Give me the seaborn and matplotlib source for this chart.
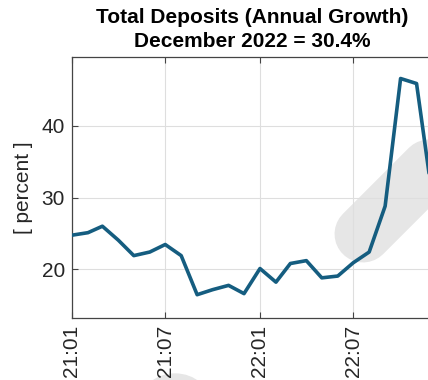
import numpy as np
import pandas as pd
import matplotlib
matplotlib.use("Agg")
import matplotlib.pyplot as plt
import matplotlib.dates as mdates
from matplotlib.lines import Line2D
from matplotlib.patches import Circle
import seaborn as sns

# Data: annual growth of total deposits, monthly 2021:01 - 2022:12
months = pd.date_range("2021-01-01", periods=24, freq="MS")
growth = [24.75, 25.1, 26.0, 24.05, 21.9, 22.4, 23.45, 21.9, 16.45, 17.15, 17.75, 16.6,
          20.1, 18.2, 20.8, 21.2, 18.8, 19.05, 20.9, 22.4, 28.8, 46.6, 45.9, 30.4]
tick_months = pd.to_datetime(["2021-01-01", "2021-07-01", "2022-01-01", "2022-07-01"])
yticks = [20, 30, 40]

df = pd.DataFrame({"month": months, "growth": growth})

sns.set_style("white")
plt.rcParams["font.family"] = ["Liberation Sans", "DejaVu Sans"]

W, H = 428, 380
fig = plt.figure(figsize=(W / 100, H / 100), dpi=100)
# axes runs slightly past the right edge of the picture, as in the reference
ax = fig.add_axes([72 / W, 1 - 318 / H, 360 / W, 261 / H])
ax.set_zorder(2)
ax.patch.set_alpha(0)

# grey watermark shapes (behind the axes content)
fig.add_artist(Line2D([363 / W, 470 / W], [1 - 234 / H, 1 - 127 / H], transform=fig.transFigure,
                      color="#e6e6e6", lw=41, solid_capstyle="round", zorder=1))
fig.add_artist(Circle((175 / W, 1 - 406 / H), 36 / W, transform=fig.transFigure,
                      color="#e6e6e6", zorder=1))

sns.lineplot(data=df, x="month", y="growth", ax=ax, color="#155d80", lw=2.6, zorder=3)

ax.set_xlim(months[0], months[-1])
ax.set_ylim(13.2, 49.6)
ax.set_xticks(tick_months)
ax.xaxis.set_major_formatter(mdates.DateFormatter("%y:%m"))
ax.set_yticks(yticks)
ax.tick_params(axis="x", rotation=90)
ax.tick_params(direction="in", length=4, width=0.8, color="#444444", labelsize=15,
               labelcolor="#262626", top=True, bottom=True, left=True, pad=5)
ax.grid(True, color="#dedede", lw=0.8)
for s in ax.spines.values():
    s.set_color("#444444")
    s.set_linewidth(0.9)
ax.spines["right"].set_visible(False)

ax.set_xlabel("")
ax.set_ylabel("[ percent ]", fontsize=15, color="#262626", labelpad=6)
ax.set_title("Total Deposits (Annual Growth)\nDecember 2022 = 30.4%",
             fontsize=15, fontweight="bold", color="black", pad=7, linespacing=1.32)

fig.savefig("out.png", dpi=100)
